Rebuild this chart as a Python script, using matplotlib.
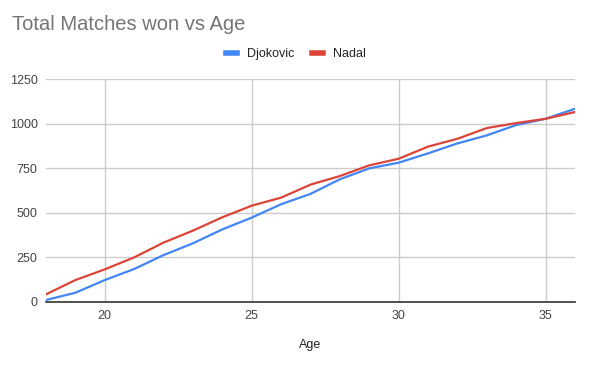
import matplotlib
matplotlib.use("Agg")
import matplotlib.pyplot as plt
from matplotlib.lines import Line2D

ages = list(range(18, 37))
djokovic = [11, 52, 123, 185, 263, 329, 407, 473, 548, 606, 688, 749, 781,
            833, 889, 934, 992, 1027, 1083]
nadal = [43, 123, 183, 250, 333, 400, 475, 540, 585, 658, 706, 766, 803,
         871, 915, 975, 1003, 1027, 1065]

x_ticks = [20, 25, 30, 35]
y_ticks = [0, 250, 500, 750, 1000, 1250]

plt.rcParams["font.family"] = ["Liberation Sans", "DejaVu Sans"]

fig = plt.figure(figsize=(5.92, 3.67), dpi=100)
ax = fig.add_axes([46 / 592, 1 - 302 / 367, 529 / 592, 223 / 367])

ax.plot(ages, djokovic, color="#4285F4", linewidth=1.6, label="Djokovic")
ax.plot(ages, nadal, color="#DB4437", linewidth=1.6, label="Nadal")

ax.set_xlim(18, 36)
ax.set_ylim(0, 1250)
ax.set_xticks(x_ticks)
ax.set_yticks(y_ticks)
ax.grid(True, color="#cccccc", linewidth=1)
ax.set_axisbelow(True)
for side in ("top", "right", "left"):
    ax.spines[side].set_visible(False)
ax.spines["bottom"].set_color("#333333")
ax.spines["bottom"].set_linewidth(1.2)
ax.tick_params(length=0, labelsize=9, labelcolor="#444444", pad=6)
ax.tick_params(axis="y", pad=6)

ax.set_xlabel("Age", fontsize=9, color="#222222", labelpad=12)

fig.text(12 / 592, 1 - 25 / 367, "Total Matches won vs Age", fontsize=14.5,
         color="#757575", va="center", ha="left")

handles = [Line2D([], [], color="#4285F4", linewidth=4),
           Line2D([], [], color="#DB4437", linewidth=4)]
fig.legend(handles, ["Djokovic", "Nadal"], loc="center",
           bbox_to_anchor=(0.5, 1 - 54 / 367), ncol=2, frameon=False,
           fontsize=9, handlelength=0.9, columnspacing=1.4, handletextpad=0.8,
           labelcolor="#222222")

fig.savefig("out.png", dpi=100)
